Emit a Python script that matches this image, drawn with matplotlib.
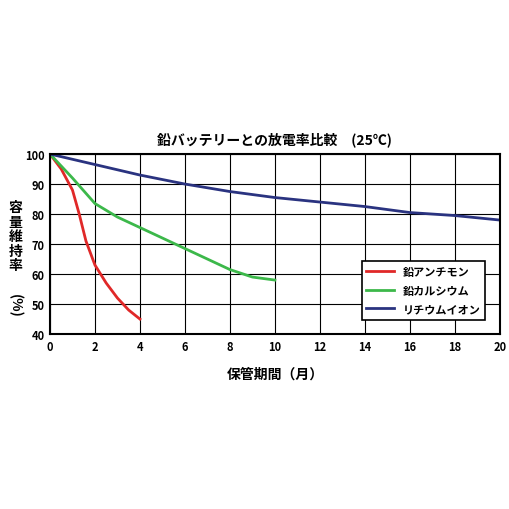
import matplotlib.pyplot as plt

plt.rcParams['font.family'] = ['Noto Sans CJK JP', 'DejaVu Sans']

# データ
months_pb_sb = [0, 0.5, 1, 1.3, 1.6, 2, 2.5, 3, 3.5, 4]
cap_pb_sb = [100, 95, 88, 80, 71, 63, 57, 52, 48, 45]
months_pb_ca = [0, 1, 2, 3, 4, 5, 6, 7, 8, 9, 10]
cap_pb_ca = [100, 92, 83.5, 79, 75.5, 72, 68.5, 65, 61.5, 59, 58]
months_li = [0, 2, 4, 6, 8, 10, 12, 14, 16, 18, 20]
cap_li = [100, 96.5, 93, 90, 87.5, 85.5, 84, 82.5, 80.5, 79.5, 78]

fig = plt.figure(figsize=(5.1, 5.1), dpi=100)
ax = fig.add_axes([0.098, 0.343, 0.882, 0.353])
ax.plot(months_pb_sb, cap_pb_sb, color='#e02828', lw=2, label='鉛アンチモン')
ax.plot(months_pb_ca, cap_pb_ca, color='#3cb84a', lw=2, label='鉛カルシウム')
ax.plot(months_li, cap_li, color='#2a3380', lw=2, label='リチウムイオン')

ax.set_xlim(0, 20)
ax.set_ylim(40, 100)
ax.set_xticks(range(0, 21, 2))
ax.set_yticks(range(40, 101, 10))
ax.grid(color='black', lw=0.8)
for s in ax.spines.values():
    s.set_linewidth(1.5)
ax.tick_params(length=0, labelsize=8, pad=4)
for t in ax.get_xticklabels() + ax.get_yticklabels():
    t.set_fontweight('bold')

ax.set_title('鉛バッテリーとの放電率比較　(25℃)', fontsize=10, fontweight='bold', pad=8)
ax.set_xlabel('保管期間（月）', fontsize=10, fontweight='bold', labelpad=10)

# 縦書きの軸ラベル
fig.text(0.03, 0.535, '容\n量\n維\n持\n率', fontsize=10, fontweight='bold',
         ha='center', va='center', linespacing=1.05)
fig.text(0.03, 0.40, '(%)', fontsize=10, fontweight='bold',
         ha='center', va='center', rotation=-90)

leg = ax.legend(loc='lower right', bbox_to_anchor=(0.98, 0.05),
                fancybox=False, edgecolor='black', framealpha=1,
                prop={'weight': 'bold', 'size': 8}, handlelength=2.5)
leg.get_frame().set_linewidth(1.2)

fig.savefig('out.png')
